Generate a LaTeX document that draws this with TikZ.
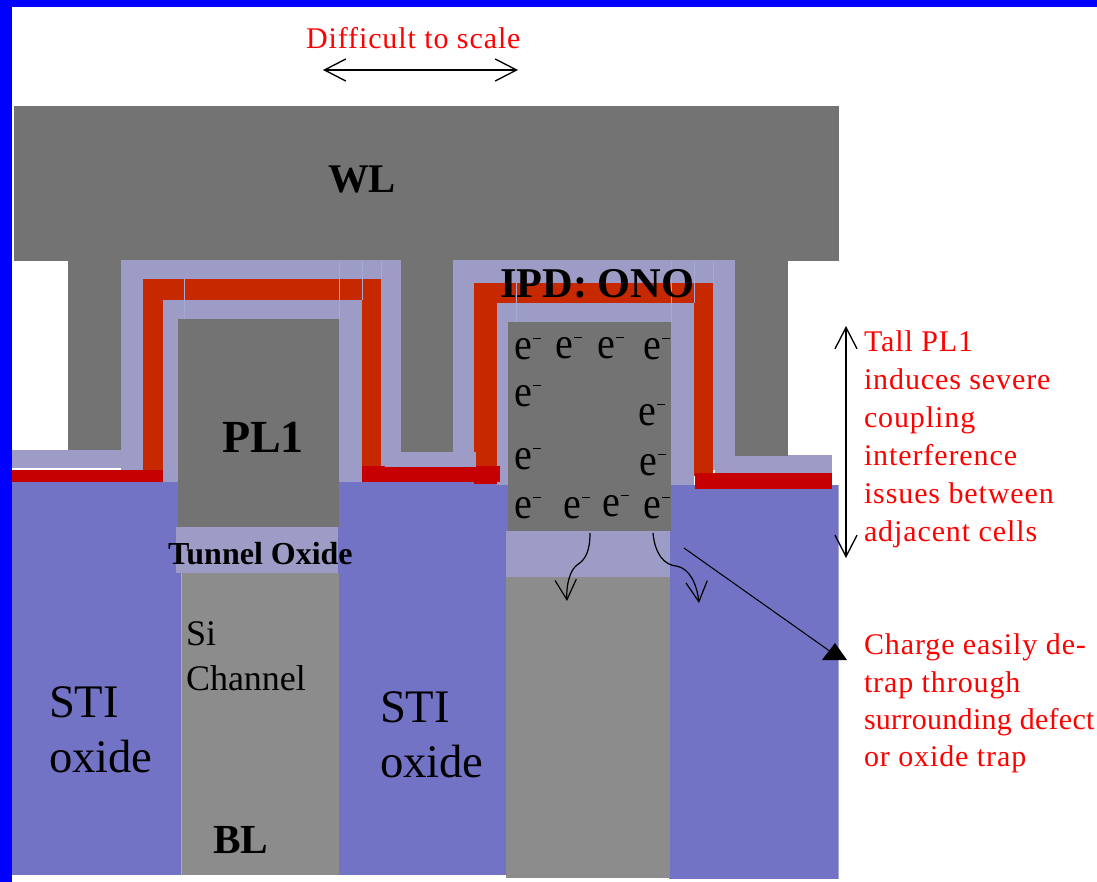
\documentclass[tikz,border=0pt]{standalone}
\usepackage{fontspec}
\usepackage{graphicx}
\setmainfont{Liberation Serif}
\newfontfamily\redfont{Liberation Serif}[LetterSpace=3]
\newfontfamily\redtight{Liberation Serif}[LetterSpace=1]
\usetikzlibrary{arrows.meta}
\definecolor{framebl}{HTML}{0000FF}
\definecolor{poly}{HTML}{737373}
\definecolor{lav}{HTML}{9C9CC6}
\definecolor{seam}{HTML}{A8A8D4}
\definecolor{nitr}{HTML}{C62900}
\definecolor{dred}{HTML}{C60000}
\definecolor{sti}{HTML}{7373C6}
\definecolor{chan}{HTML}{8C8C8C}
\newcommand{\blk}[5]{\fill[#1] (#2,#3) rectangle (#4,#5);}
\newcommand{\elec}{\scalebox{.97}[1.08]{e}\hspace{1.2pt}\raisebox{15pt}{\rule{6pt}{0.9pt}}}
\tikzset{
  lbl/.style={anchor=base west,inner sep=0pt,outer sep=0pt,text=black},
  redlbl/.style={anchor=base west,inner sep=0pt,outer sep=0pt,text=red,align=left},
  barbs/.style={line width=1.3pt,black,{Straight Barb[length=16pt,width=16.5pt,line width=1pt]}-{Straight Barb[length=16pt,width=16.5pt,line width=1pt]}},
  thinbarb/.style={line width=0.9pt,black,-{Straight Barb[length=15pt,width=16pt,line width=0.9pt]}},
  en/.style={lbl,font=\fontsize{31}{31}\selectfont}
}
\begin{document}
\begin{tikzpicture}[x=0.75pt,y=-0.75pt]
\useasboundingbox (0,0) rectangle (1097,882);
\fill[white] (0,0) rectangle (1097,882);
% substrate
\blk{sti}{12}{480}{183}{875}
\blk{sti}{338}{482}{509}{875}
\blk{sti}{669}{485}{839}{879}
\blk{chan}{182}{573}{339}{875}
\blk{chan}{506}{577}{670}{878}
% word line
\blk{poly}{14}{106}{839}{260.5}
% left ONO wrap
\blk{lav}{121}{260}{402}{470}
\blk{nitr}{143}{279}{381}{470}
\blk{lav}{163}{300}{362}{482}
% right ONO wrap
\blk{lav}{452}{260}{736}{470}
\blk{nitr}{474}{283}{713}{476}
\blk{lav}{497}{303}{694}{485}
% ledges
\blk{lav}{12}{450}{127}{468}
\blk{dred}{12}{470}{163}{482}
\blk{dred}{362}{466}{500}{482}
\blk{dred}{474}{474}{497}{484}
\blk{lav}{385}{452}{476}{467}
\blk{lav}{715}{455}{832}{473}
\blk{dred}{695}{473}{832}{489}
% tunnel oxides
\blk{lav}{176}{527}{338}{573}
\blk{lav}{506}{531}{670}{577}
% floating gates
\blk{poly}{178}{319}{339}{527}
\blk{poly}{508}{322}{671}{531}
% stubs
\blk{poly}{68}{252}{121}{450}
\blk{poly}{401}{256}{453}{452}
\blk{poly}{735}{259}{788}{456}
% seams
\draw[seam,line width=.6pt] (184,279)--(184,319) (339,261)--(339,319) (362,261)--(362,300) (381,261)--(381,279)
  (516,283)--(516,322) (671,261)--(671,322) (694,261)--(694,303) (713,261)--(713,283) (838.5,485)--(838.5,879) (181.5,573)--(181.5,875);
% labels
\node[redlbl,font=\redfont\fontsize{22.5}{22.5}\selectfont] (dts) at (306,48) {Difficult to scale};
\node[lbl,font=\bfseries\fontsize{30.5}{30.5}\selectfont] (wl) at (328,192) {WL};
\node[lbl,font=\bfseries\fontsize{34.5}{34.5}\selectfont] (pl1) at (222,452) {PL1};
\node[lbl,font=\bfseries\fontsize{24}{24}\selectfont] (tox) at (168,564) {Tunnel Oxide};
\node[lbl,font=\bfseries\fontsize{31.8}{31.8}\selectfont] (ipd) at (500,297) {IPD: ONO};
\node[lbl,font=\fontsize{35}{41}\selectfont,align=left,anchor=north west] (stia) at (49,687) {STI\\oxide};
\node[lbl,font=\fontsize{35}{41}\selectfont,align=left,anchor=north west] (stib) at (380,692) {STI\\oxide};
\node[lbl,font=\fontsize{27}{33.7}\selectfont,align=left,anchor=north west] (sich) at (186,622) {Si\\Channel};
\node[lbl,font=\bfseries\fontsize{31}{31}\selectfont] (bl) at (213,853) {BL};
\node[redlbl,anchor=north west,font=\redfont\fontsize{22.5}{28.5}\selectfont] (tall) at (864,331) {Tall PL1\\induces severe\\coupling\\interference\\issues between\\adjacent cells};
\node[redlbl,anchor=north west,font=\redfont\fontsize{22.5}{28}\selectfont] (chg) at (864,634) {Charge easily de-\\trap through\\{\redtight surrounding defect}\\or oxide trap};
% electrons
\foreach \n/\a/\b in {a/514/359,b/555/358,c/597/358,d/643/359,e/514/406,f/638/425,g/514/469,h/639/475,i/514/518,j/563/518,k/602/516,l/643/518}
  \node[en] (e\n) at (\a,\b) {\elec};
% connectors
\coordinate (dl) at (323,70); \coordinate (dr) at (518,70);
\draw[barbs] (dl) -- (dr);
\coordinate (vt) at (846,326); \coordinate (vb) at (846,558);
\draw[barbs] (vt) -- (vb);
\coordinate (c1s) at (590,533); \coordinate (c1e) at (567,601);
\draw[thinbarb] (c1s) .. controls (590,552) and (585,560) .. (577,565) .. controls (570,570) and (566,585) .. (c1e);
\coordinate (c2s) at (653,533); \coordinate (c2e) at (699,603);
\draw[thinbarb] (c2s) .. controls (655,555) and (665,565) .. (676,566) .. controls (690,568) and (697,585) .. (c2e);
\coordinate (ds) at (684,548); \coordinate (de) at (831,652);
\draw[line width=.8pt,black] (ds) -- (de);
\fill[black] (835,643) -- (847,660) -- (822,660) -- cycle;
% frame
\blk{framebl}{0}{0}{1097}{7}
\blk{framebl}{0}{0}{12}{882}
\end{tikzpicture}
\end{document}
